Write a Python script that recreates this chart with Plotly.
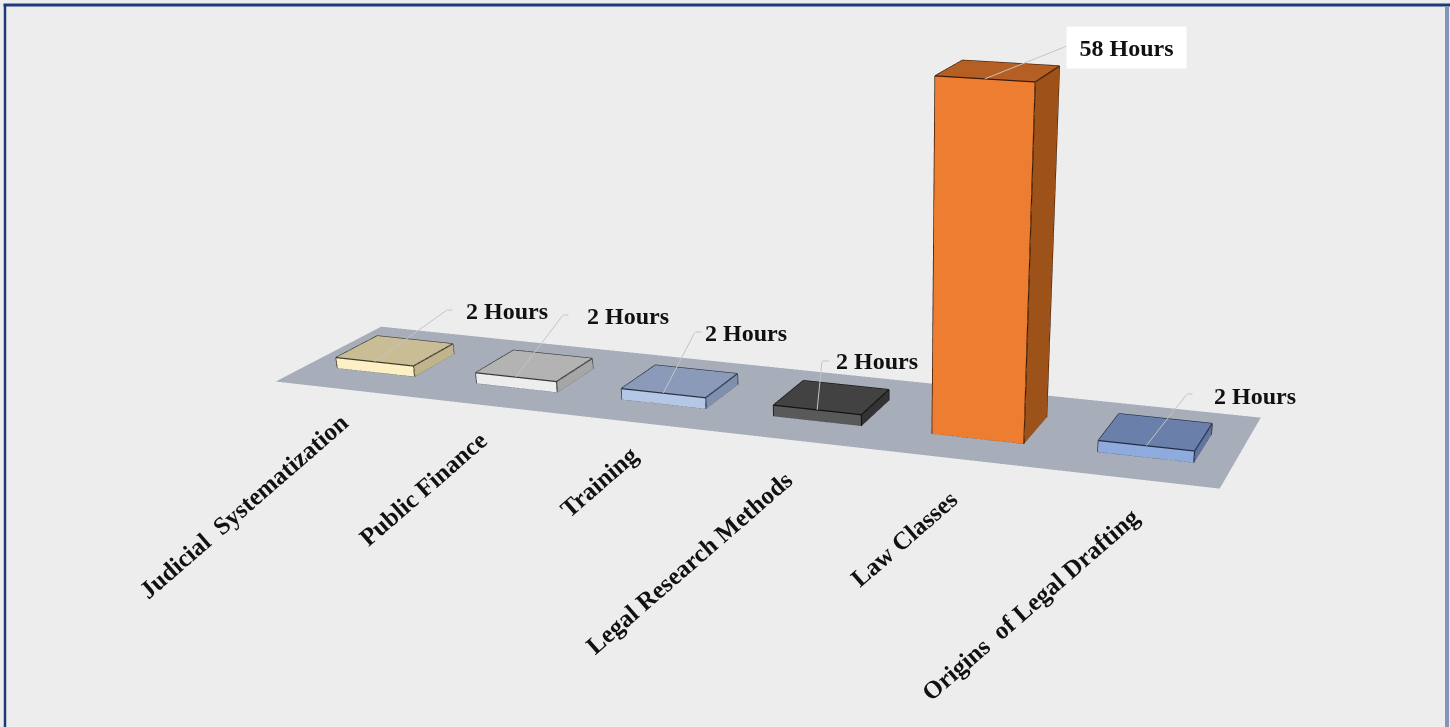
import numpy as np
import plotly.graph_objects as go

categories = ["Judicial  Systematization", "Public Finance", "Training",
              "Legal Research Methods", "Law Classes", "Origins  of Legal Drafting"]
hours = [2, 2, 2, 2, 58, 2]
front_colors = ["#fdf0c4", "#ededed", "#b4c7e7", "#595959", "#ed7d31", "#8faadc"]
top_colors = ["#c8bd94", "#b3b3b3", "#8a9ab8", "#424242", "#b55f24", "#6a80ab"]
side_colors = ["#bfb48c", "#a6a6a6", "#7f8fac", "#333333", "#9c5219", "#6175a0"]
edge_colors = ["#3a3a30", "#3a3a3a", "#2c3443", "#111111", "#3a1c08", "#222c44"]
label_centres = [(507, 311), (628, 316), (746, 333), (877, 361), (1126, 47), (1255, 396)]
leader_ends = [(447, 310), (563, 315), (695, 332), (822, 361), (1067, 46), (1187, 394)]
stub_lengths = [6, 6, 7, 8, 0, 6]
cat_centres = [(243, 506), (423, 488), (599, 481), (689, 562), (904, 538), (1030, 604)]

W, H = 1800, 1732
PAGE_W, PAGE_H = 1450, 727
HALF_W, Y0, Y1 = 0.2797, 0.2879, 0.6823
ASPECT = (3.0, 0.6382, 1.0334)
EYE = np.array([2.4124, -5.7957, 1.511])
CENTRE = np.array([0.4649, 0.0, -2.0947])
UP = np.array([0.0, 0.0, 1.0])
XR, YR, ZR = (0, 6), (0, 1), (0, 60)
FLOOR = "#a7aeba"
BG = "#ededed"
FRAME = "#1f3a7a"
FRAME_RIGHT = "#8493b8"


def to_screen(x, y, z):
    n = np.array([(x - 3) / 6 * ASPECT[0], (y - .5) * ASPECT[1], (z - 30) / 60 * ASPECT[2]])
    fw = (CENTRE - EYE) / np.linalg.norm(CENTRE - EYE)
    r = np.cross(fw, UP)
    r /= np.linalg.norm(r)
    u = np.cross(r, fw)
    d = n - EYE
    f = H / 2 / np.tan(np.pi / 8)
    return W / 2 + f * (d @ r) / (d @ fw), H / 2 - f * (d @ u) / (d @ fw)


FLAT = dict(ambient=1, diffuse=0, specular=0, fresnel=0)
SERIF = "Liberation Serif"
fig = go.Figure()
fig.add_trace(go.Mesh3d(x=[0, 6, 6, 0], y=[0, 0, 1, 1], z=[0, 0, 0, 0], i=[0, 0], j=[1, 2], k=[2, 3],
                        color=FLOOR, flatshading=True, hoverinfo="skip", lighting=FLAT))
annos = []
for s, v in enumerate(hours):
    x0, x1 = s + .5 - HALF_W, s + .5 + HALF_W
    X = [x0, x1, x1, x0, x0, x1, x1, x0]
    Y = [Y0, Y0, Y1, Y1, Y0, Y0, Y1, Y1]
    Z = [0, 0, 0, 0, v, v, v, v]
    faces = [(0, 1, 5, front_colors[s]), (0, 5, 4, front_colors[s]),
             (1, 2, 6, side_colors[s]), (1, 6, 5, side_colors[s]),
             (4, 5, 6, top_colors[s]), (4, 6, 7, top_colors[s]),
             (0, 3, 7, side_colors[s]), (0, 7, 4, side_colors[s]),
             (3, 2, 6, front_colors[s]), (3, 6, 7, front_colors[s])]
    fig.add_trace(go.Mesh3d(x=X, y=Y, z=Z, i=[f[0] for f in faces], j=[f[1] for f in faces], k=[f[2] for f in faces],
                            facecolor=[f[3] for f in faces], flatshading=True, hoverinfo="skip", lighting=FLAT))
    ex, ey, ez = [], [], []
    for a, b in [(0, 1), (1, 2), (0, 4), (1, 5), (2, 6), (4, 5), (5, 6), (6, 7), (7, 4)]:
        ex += [X[a], X[b], None]; ey += [Y[a], Y[b], None]; ez += [Z[a], Z[b], None]
    fig.add_trace(go.Scatter3d(x=ex, y=ey, z=ez, mode="lines", line=dict(color=edge_colors[s], width=2.5), hoverinfo="skip"))

    # leader line from the front top edge to the elbow, then a short stub
    px, py = to_screen(s + .5, Y0, v)
    ex_, ey_ = leader_ends[s]
    leader = dict(x=s + .5, y=Y0, z=v, text=" ", showarrow=True, arrowhead=0, arrowwidth=1, arrowcolor="#c4c4c4",
                  font=dict(size=1), borderpad=0)
    annos.append(dict(leader, ax=ex_ - px, ay=ey_ - py))
    if stub_lengths[s]:
        annos.append(dict(leader, ax=stub_lengths[s], ay=0, xshift=ex_ - px, yshift=py - ey_))
    tx, ty = label_centres[s]
    label = dict(x=s + .5, y=Y0, z=v, text=f"<b>{v} Hours</b>", showarrow=False, xshift=tx - px, yshift=py - ty,
                 xanchor="center", yanchor="middle", font=dict(family=SERIF, size=24, color="#111111"))
    if v > 10:
        label.update(bgcolor="#ffffff", width=117, height=39)
    annos.append(label)

    px, py = to_screen(s + .5, 0, 0)
    tx, ty = cat_centres[s]
    annos.append(dict(x=s + .5, y=0, z=0, text=f"<b>{categories[s]}</b>", showarrow=False, textangle=-41,
                      xshift=tx - px, yshift=py - ty, xanchor="center", yanchor="middle",
                      font=dict(family=SERIF, size=25, color="#111111")))

hidden = dict(visible=False, showgrid=False, zeroline=False, showticklabels=False, showspikes=False,
              showbackground=False, title="")


def frame_line(x0, y0, x1, y1, color, width):
    return dict(type="line", xref="paper", yref="paper", x0=x0 / W, x1=x1 / W, y0=1 - y0 / H, y1=1 - y1 / H,
                line=dict(color=color, width=width))


fig.update_layout(
    width=W, height=H, margin=dict(l=0, r=0, t=0, b=0), paper_bgcolor=BG, showlegend=False,
    scene=dict(domain=dict(x=[0, 1], y=[0, 1]),
               xaxis=dict(range=list(XR), **hidden), yaxis=dict(range=list(YR), **hidden), zaxis=dict(range=list(ZR), **hidden),
               aspectmode="manual", aspectratio=dict(x=ASPECT[0], y=ASPECT[1], z=ASPECT[2]),
               camera=dict(eye=dict(x=EYE[0], y=EYE[1], z=EYE[2]), center=dict(x=CENTRE[0], y=CENTRE[1], z=CENTRE[2]),
                           up=dict(x=UP[0], y=UP[1], z=UP[2])),
               annotations=annos),
    shapes=[frame_line(5, 4, 5, PAGE_H, FRAME, 2.5),
            frame_line(3.5, 5, PAGE_W, 5, FRAME, 3),
            frame_line(PAGE_W - 3, 6, PAGE_W - 3, PAGE_H, FRAME_RIGHT, 4)])
fig.write_html("out.html", config=dict(displayModeBar=False),
               post_script="document.body.style.margin='0';document.documentElement.style.overflow='hidden';document.body.style.overflow='hidden';")
